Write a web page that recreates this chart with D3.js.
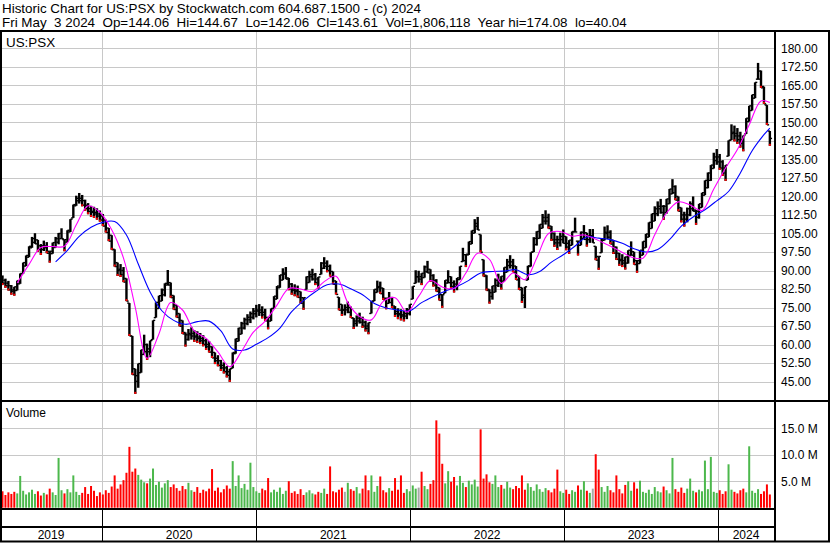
<!DOCTYPE html>
<html>
<head>
<meta charset="utf-8">
<script src="https://cdn.jsdelivr.net/npm/d3@7"></script>
<style>
  body { margin: 0; background: #fff; }
  text { font-family: "Liberation Sans", Arial, sans-serif; fill: #000; }
  .hdr { font-size: 13.4px; white-space: pre; }
  .lbl { font-size: 12px; }
</style>
</head>
<body>
<div id="chart"></div>
<script>
// ---- data (weekly, first week ending Fri May 3 2019) ----
const weekStart = new Date(2019, 4, 3);

const hi = [
  88.9,88.0,86.7,85.8,84.1,83.4,85.9,88.8,93.2,96.1,
  99.8,103.6,105.1,102.4,100.7,102.1,101.5,97.8,101.3,103.6,
  105.2,107.1,102.5,106.3,110.8,116.7,120.3,121.4,120.6,118.7,
  117.3,116.2,115.8,115.2,114.3,112.9,110.6,107.2,104.3,98.6,
  93.2,92.6,91.4,86.8,76.8,63.5,50.2,52.3,57.9,64.0,
  60.4,61.6,69.8,77.1,79.8,82.7,84.8,90.2,85.1,79.9,
  76.0,72.6,69.8,64.9,66.3,67.0,65.8,65.4,64.7,63.8,
  62.3,61.4,59.3,56.8,55.7,53.8,52.8,51.3,50.2,56.8,
  62.4,66.8,69.2,70.9,72.3,73.4,74.8,76.1,76.4,75.5,
  74.5,71.0,74.6,79.6,83.7,88.2,90.9,91.4,87.0,84.9,
  84.4,83.9,81.5,79.0,87.6,89.9,90.7,89.0,87.4,93.4,
  95.4,94.1,92.4,89.6,85.8,79.2,76.3,76.3,77.4,75.4,
  70.8,71.8,72.9,71.3,69.7,68.9,77.6,82.4,85.9,85.5,
  82.9,78.8,81.3,79.3,75.6,74.7,74.3,73.7,74.8,76.3,
  83.6,90.1,89.9,88.9,92.0,93.9,90.5,88.5,86.5,83.1,
  80.2,86.1,90.1,87.6,86.0,87.0,91.7,99.2,96.6,101.7,
  106.2,110.8,111.7,104.6,94.4,88.1,82.4,83.8,86.8,88.7,
  87.7,91.3,94.7,96.2,94.7,91.8,87.8,83.1,83.4,91.9,
  97.4,103.5,105.9,108.7,112.9,114.4,113.0,108.0,105.4,104.1,
  105.3,106.6,103.8,102.3,105.8,111.4,101.9,105.8,108.4,105.3,
  106.8,106.8,99.8,95.7,102.8,107.8,108.3,106.3,102.3,99.7,
  97.1,96.6,95.6,98.2,101.8,97.6,94.0,98.2,101.8,104.8,
  109.5,113.0,116.0,118.0,119.0,116.5,119.0,123.0,127.0,124.5,
  120.0,115.5,113.8,115.5,118.0,120.0,114.5,117.0,121.5,126.5,
  129.7,132.7,137.7,139.2,137.2,134.7,132.7,142.7,149.2,148.7,
  147.7,146.2,144.7,151.7,156.7,161.2,166.2,174.08,171.0,164.5,
  157.0,146.5
];

const lo = [
  85.2,84.1,83.0,81.9,80.2,79.8,81.9,84.6,88.7,91.8,
  95.4,99.2,100.8,97.6,96.3,97.9,97.0,93.2,96.8,99.3,
  100.6,102.9,97.8,101.5,105.6,111.3,116.2,117.1,116.0,114.2,
  112.8,111.7,111.3,110.6,109.8,108.0,105.4,101.9,98.4,91.6,
  87.8,87.4,85.3,77.6,63.5,47.8,40.04,42.5,48.6,56.0,
  53.8,54.9,62.0,70.9,74.6,77.6,79.5,84.1,79.0,74.2,
  71.0,67.4,64.3,59.2,61.6,62.0,61.1,60.7,60.2,59.3,
  57.8,56.8,54.6,52.1,51.2,49.3,48.3,46.7,44.9,50.4,
  56.3,61.3,64.2,66.1,67.8,68.7,70.2,71.0,71.6,70.6,
  69.6,66.2,69.5,74.6,78.4,83.0,86.1,86.5,82.0,80.2,
  79.6,79.1,76.7,74.1,82.3,85.1,85.9,84.1,82.7,88.4,
  90.6,89.3,87.6,84.4,80.3,73.9,71.6,71.8,72.7,70.8,
  66.3,67.3,68.5,66.8,65.3,64.2,72.6,77.6,81.1,80.6,
  78.1,74.3,76.7,74.8,71.2,70.3,69.8,69.4,70.3,71.8,
  78.4,84.8,85.1,84.1,87.1,89.0,85.4,83.5,81.5,77.9,
  74.9,80.8,84.9,82.5,81.1,82.0,86.3,93.6,91.4,96.3,
  100.7,105.1,106.4,97.4,87.6,81.9,76.6,78.2,81.2,83.3,
  82.3,85.7,89.3,90.8,89.3,86.2,82.2,76.9,74.8,86.1,
  91.6,97.5,100.1,102.9,107.1,108.6,107.0,102.0,99.6,98.3,
  99.7,101.0,98.2,96.7,100.2,105.6,96.1,100.2,102.6,99.7,
  101.2,101.2,94.2,90.3,97.2,102.2,102.7,100.7,96.7,94.3,
  91.9,91.4,90.4,92.8,96.2,92.4,89.1,92.8,96.2,99.2,
  103.5,107.0,110.0,112.0,113.0,110.5,113.0,117.0,121.0,118.5,
  114.0,109.5,107.8,109.5,112.0,114.0,108.5,111.0,115.5,120.5,
  123.3,126.3,131.3,132.8,130.8,128.3,126.3,136.3,142.8,142.3,
  141.3,139.8,138.3,145.3,150.3,154.8,159.8,167.5,164.0,157.5,
  149.0,140.5
];

// weekly volume, millions
const vol = [
  2.8,3.1,2.4,2.9,2.6,3.0,2.7,6.0,3.2,2.5,
  2.9,3.4,2.6,3.1,2.3,2.8,2.5,3.6,2.9,2.4,
  9.4,3.3,2.7,3.5,2.9,6.1,3.0,2.4,2.8,3.9,
  2.6,4.1,3.2,2.2,2.9,2.5,3.3,2.8,4.0,6.1,
  3.6,4.4,5.2,6.6,11.5,6.8,7.4,6.2,5.3,4.8,
  4.6,5.5,7.4,4.3,4.9,3.8,4.6,5.2,3.9,4.4,
  3.7,3.2,4.1,3.5,4.7,3.3,3.0,3.9,2.8,3.4,
  3.1,3.6,7.3,3.2,3.8,2.9,3.5,4.2,3.6,8.8,
  4.1,6.1,3.7,4.5,3.4,8.5,3.9,3.1,2.8,3.6,
  3.3,5.6,2.9,3.4,3.0,3.8,2.6,3.2,5.0,2.8,
  3.1,2.6,3.5,2.4,2.9,3.3,2.7,2.5,3.0,2.8,
  3.6,2.6,7.8,3.1,2.9,3.4,3.8,3.0,4.7,3.5,
  3.2,3.9,2.7,3.6,6.1,3.3,6.1,3.0,4.1,5.9,
  3.3,2.9,3.7,3.2,5.6,3.4,6.1,2.8,3.5,3.1,
  4.2,3.6,3.8,6.8,4.1,3.5,4.5,5.2,16.5,14.0,
  8.3,4.6,6.9,4.9,5.8,4.2,6.0,4.7,3.9,5.1,
  4.4,5.3,4.0,14.8,5.5,6.3,4.8,4.5,6.1,3.9,
  4.3,3.6,4.9,3.8,3.5,4.1,3.7,6.1,3.4,4.6,
  3.9,3.2,4.4,3.5,3.0,3.7,3.3,2.9,3.6,7.2,
  3.1,2.8,3.4,2.6,3.3,3.0,4.2,3.4,5.0,3.2,
  2.8,3.6,10.1,7.2,3.9,3.0,4.1,3.3,2.9,6.1,
  3.5,2.7,4.3,5.0,3.2,4.8,3.6,5.1,3.0,2.8,
  3.4,2.6,3.9,3.1,2.9,4.0,3.3,2.7,9.4,3.5,
  3.0,3.8,2.8,3.6,5.5,3.2,2.9,3.4,3.1,8.9,
  3.5,9.6,3.0,2.8,3.3,2.6,3.1,8.2,3.4,3.0,
  2.7,3.3,3.6,2.9,11.6,3.2,2.8,3.5,2.6,3.1,
  4.4,2.5
];

const maFastWeeks = d3.range(6, 259, 4).concat([261]);
const maFast = [85, 92.5, 99.3, 99.7, 99.8, 108.5, 116.2, 113.6, 106.5, 95, 75, 54.5, 64.3, 77, 74, 65.5,
  62.5, 57, 51, 57.3, 65, 69.5, 76, 82.7, 82.5, 81.5, 85.5, 87.7, 77, 71.4, 70, 77.5, 79, 73.2, 79.5,
  85.9, 83.3, 82.7, 89, 97, 94.5, 84.8, 89, 86.3, 95, 105, 105.8, 103.9, 104.4, 102.7, 100.4, 98, 95.5,
  95, 104.5, 113.3, 117.8, 116.5, 114.3, 123, 131.5, 139, 149, 158.7, 158];
const maSlowWeeks = d3.range(19, 260, 4).concat([261]);
const maSlow = [93.5, 98.2, 103.8, 107.5, 109.5, 109.8, 104.4, 92.6, 81.3, 73.7, 69.8, 68.2, 69.3, 69.5,
  65.5, 58.2, 57.8, 60.1, 62.8, 66.7, 73.3, 77.8, 81.4, 84.2, 84.5, 82.6, 80.2, 76.6, 74.8, 74, 73.7, 77,
  79.5, 81.6, 83.5, 86, 89, 89.6, 89.8, 90.3, 88.3, 89.6, 93.4, 96.4, 99.9, 103.6, 103.1, 102.5, 101,
  98.8, 97.5, 98.5, 102.5, 108, 111.7, 114.6, 118.2, 122, 129.5, 138.5, 145, 147.7];

const priceTicks = [45, 52.5, 60, 67.5, 75, 82.5, 90, 97.5, 105, 112.5, 120, 127.5, 135, 142.5, 150, 157.5, 165, 172.5, 180];
const volTicks = [5, 10, 15];
const years = [2019, 2020, 2021, 2022, 2023, 2024];

const header1 = "Historic Chart for US:PSX by Stockwatch.com 604.687.1500 - (c) 2024";
const header2 = "Fri May  3 2024  Op=144.06  Hi=144.67  Lo=142.06  Cl=143.61  Vol=1,806,118  Year hi=174.08  lo=40.04";

// ---- layout ----
const W = 830, H = 543;
const left = 2, axisX = 774;
const pTop = 31, pBot = 401, vBot = 509, xRow = 527, bottom = 541;

const svg = d3.select("#chart").append("svg").attr("width", W).attr("height", H);

const x = d3.scaleTime()
  .domain([new Date(2020, 0, 1), new Date(2024, 0, 1)])
  .range([102, 718]);
const y = d3.scaleLinear().domain([45, 180]).range([381.6, 48.3]);
const yv = d3.scaleLinear().domain([0, 15]).range([507.7, 428.3]);
const weekX = i => x(d3.timeDay.offset(weekStart, 7 * i));

// ----- header -----
svg.append("text").attr("class", "hdr").attr("x", 2).attr("y", 13).text(header1);
svg.append("text").attr("class", "hdr").attr("x", 2).attr("y", 27).text(header2);

// ----- grid -----
svg.append("g").selectAll("line").data(priceTicks).join("line")
  .attr("x1", left).attr("x2", axisX)
  .attr("y1", d => Math.round(y(d)) + 0.5).attr("y2", d => Math.round(y(d)) + 0.5)
  .attr("stroke", "#c8c8c8");

svg.append("g").selectAll("line").data(volTicks).join("line")
  .attr("x1", left).attr("x2", axisX)
  .attr("y1", d => Math.round(yv(d)) + 0.5).attr("y2", d => Math.round(yv(d)) + 0.5)
  .attr("stroke", "#c8c8c8");

const yearStarts = years.slice(1).map(yr => new Date(yr, 0, 1));
svg.append("g").selectAll("line").data(yearStarts).join("line")
  .attr("x1", d => Math.round(x(d)) + 0.5).attr("x2", d => Math.round(x(d)) + 0.5)
  .attr("y1", pTop).attr("y2", vBot)
  .attr("stroke", "#c8c8c8");
svg.append("g").selectAll("line").data(yearStarts).join("line")
  .attr("x1", d => Math.round(x(d)) + 0.5).attr("x2", d => Math.round(x(d)) + 0.5)
  .attr("y1", vBot).attr("y2", bottom)
  .attr("stroke", "#000");

// ----- volume bars -----
const mid = hi.map((h, i) => (h + lo[i]) / 2);
const volColor = i => {
  if (i === 0) return "#4cb84c";
  const dlt = mid[i] - mid[i - 1];
  if (Math.abs(dlt) < 0.3) return "#a8a8a8";
  return dlt > 0 ? "#4cb84c" : "#ff0000";
};
svg.append("g").selectAll("rect").data(vol).join("rect")
  .attr("x", (d, i) => weekX(i) - 1)
  .attr("width", 2)
  .attr("y", d => yv(d))
  .attr("height", d => yv(0) - yv(d))
  .attr("fill", (d, i) => volColor(i));

// ----- price bars -----
const bars = svg.append("g");
bars.selectAll("rect").data(hi).join("rect")
  .attr("x", (d, i) => weekX(i) - 1.2)
  .attr("width", 2.4)
  .attr("y", d => y(d))
  .attr("height", (d, i) => y(lo[i]) - y(d))
  .attr("fill", "#000");

// open tick on the left (toward last week), close tick on the right (toward next week)
const clampTo = (v, i) => Math.max(lo[i], Math.min(hi[i], v));
bars.selectAll("line.op").data(hi).join("line").attr("class", "op")
  .attr("x1", (d, i) => weekX(i) - 2.2).attr("x2", (d, i) => weekX(i))
  .attr("y1", (d, i) => y(clampTo(mid[Math.max(0, i - 1)], i)))
  .attr("y2", (d, i) => y(clampTo(mid[Math.max(0, i - 1)], i)))
  .attr("stroke", "#000").attr("stroke-width", 1.4);
bars.selectAll("line.cl").data(hi).join("line").attr("class", "cl")
  .attr("x1", (d, i) => weekX(i)).attr("x2", (d, i) => weekX(i) + 2.2)
  .attr("y1", (d, i) => y(clampTo(mid[Math.min(hi.length - 1, i + 1)], i)))
  .attr("y2", (d, i) => y(clampTo(mid[Math.min(hi.length - 1, i + 1)], i)))
  .attr("stroke", "#000").attr("stroke-width", 1.4);

// red marks on weeks that fell below the prior week
const downWeeks = d3.range(1, hi.length).filter(i => hi[i] < hi[i - 1] && lo[i] < lo[i - 1]);
svg.append("g").selectAll("rect").data(downWeeks).join("rect")
  .attr("x", i => weekX(i) - 1)
  .attr("y", i => y(lo[i]) - 2)
  .attr("width", 2).attr("height", 2)
  .attr("fill", "#ff0000");

// ----- moving averages -----
const maLine = (weeks) => d3.line()
  .x((d, k) => weekX(weeks[k]))
  .y(d => y(d))
  .curve(d3.curveCatmullRom);

svg.append("path").datum(maSlow)
  .attr("d", maLine(maSlowWeeks))
  .attr("fill", "none").attr("stroke", "#0000ff").attr("stroke-width", 1.1);

svg.append("path").datum(maFast)
  .attr("d", maLine(maFastWeeks))
  .attr("fill", "none").attr("stroke", "#ff00ff").attr("stroke-width", 1.1);

// ----- panel labels -----
svg.append("text").attr("class", "hdr").attr("x", 6).attr("y", 47).text("US:PSX");
svg.append("text").attr("class", "lbl").attr("x", 6).attr("y", 417).text("Volume");

// ----- right axes -----
const pAxis = d3.axisRight(y).tickValues(priceTicks)
  .tickFormat(d3.format(".2f")).tickSize(0).tickPadding(7);
svg.append("g").attr("transform", `translate(${axisX},0)`).call(pAxis)
  .call(g => g.select(".domain").remove())
  .selectAll("text").style("font-size", "12px")
  .style("font-family", "'Liberation Sans', Arial, sans-serif").attr("fill", "#000");

const vAxis = d3.axisRight(yv).tickValues(volTicks)
  .tickFormat(d => d.toFixed(1) + " M").tickSize(0).tickPadding(7);
svg.append("g").attr("transform", `translate(${axisX},0)`).call(vAxis)
  .call(g => g.select(".domain").remove())
  .selectAll("text").style("font-size", "12px")
  .style("font-family", "'Liberation Sans', Arial, sans-serif").attr("fill", "#000");

// ----- year labels -----
const yearBounds = years.map(yr => [Math.max(0, x(new Date(yr, 0, 1))), Math.min(axisX, x(new Date(yr + 1, 0, 1)))]);
svg.append("g").selectAll("text").data(years).join("text")
  .attr("class", "lbl")
  .attr("x", (d, i) => (yearBounds[i][0] + yearBounds[i][1]) / 2)
  .attr("y", 539)
  .attr("text-anchor", "middle")
  .text(d => d);

// ----- frame -----
const frame = svg.append("g").attr("stroke", "#000").attr("stroke-width", 2);
frame.append("line").attr("x1", 0).attr("x2", W).attr("y1", pTop).attr("y2", pTop);
frame.append("line").attr("x1", 1).attr("x2", 1).attr("y1", pTop).attr("y2", bottom + 1);
frame.append("line").attr("x1", 829).attr("x2", 829).attr("y1", pTop).attr("y2", bottom + 1);
frame.append("line").attr("x1", axisX + 1).attr("x2", axisX + 1).attr("y1", pTop).attr("y2", bottom + 1);
frame.append("line").attr("x1", 0).attr("x2", W).attr("y1", pBot).attr("y2", pBot);
frame.append("line").attr("x1", 0).attr("x2", axisX).attr("y1", vBot).attr("y2", vBot);
frame.append("line").attr("x1", 0).attr("x2", axisX).attr("y1", xRow).attr("y2", xRow);
frame.append("line").attr("x1", 0).attr("x2", W).attr("y1", bottom + 0.5).attr("y2", bottom + 0.5);
</script>
</body>
</html>
